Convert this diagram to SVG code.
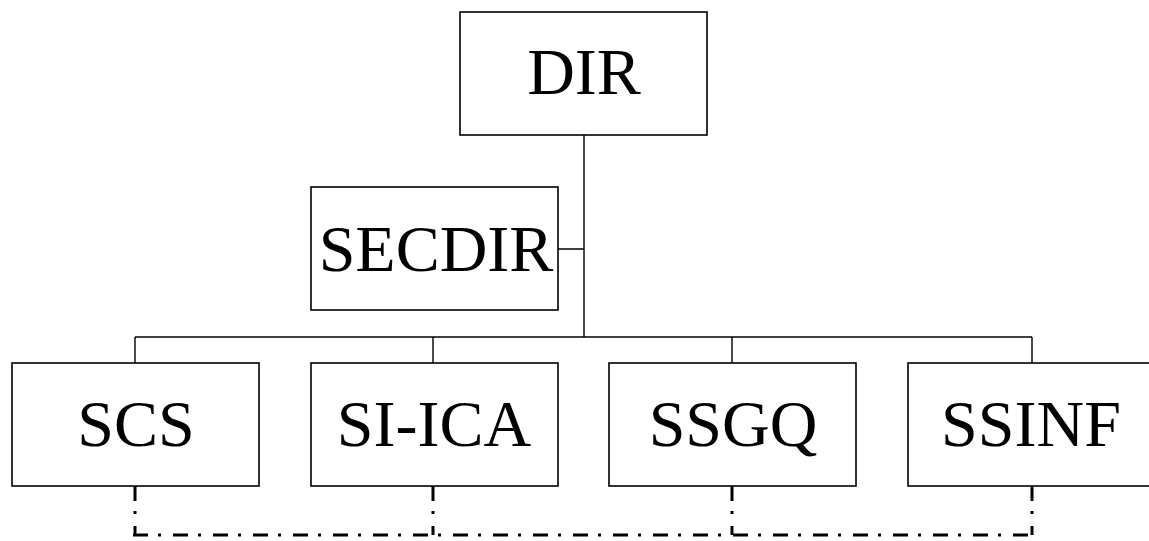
<svg xmlns="http://www.w3.org/2000/svg" width="1149" height="541" viewBox="0 0 1149 541">
<style>
.box{fill:#fff;stroke:#000;stroke-width:1.6}
.lbl{font-family:"Liberation Serif","Times New Roman",serif;font-size:66px;fill:#000;text-anchor:middle}
.ln{fill:none;stroke:#000;stroke-width:1.4}
.dd{fill:none;stroke:#000;stroke-width:3;stroke-dasharray:15 10 3 12}
</style>
<rect width="1149" height="541" fill="#fff"/>
<g id="connectors">
<path class="ln" d="M584,135V337M558,249H584M135,337H1032M135,337V363M433,337V363M732,337V363M1032,337V363"/>
<path class="dd" d="M135,486V535"/>
<path class="dd" d="M433,486V535"/>
<path class="dd" d="M732,486V535"/>
<path class="dd" d="M1032,486V535"/>
<path class="dd" d="M133,535H1034"/>
</g>
<g id="DIR"><rect class="box" x="460" y="12" width="247" height="123"/><text class="lbl" x="584" y="94">DIR</text></g>
<g id="SECDIR"><rect class="box" x="311" y="187" width="247" height="123"/><text class="lbl" x="436" y="271">SECDIR</text></g>
<g id="SCS"><rect class="box" x="12" y="363" width="247" height="123"/><text class="lbl" x="136" y="446">SCS</text></g>
<g id="SI-ICA"><rect class="box" x="311" y="363" width="247" height="123"/><text class="lbl" x="434" y="446">SI-ICA</text></g>
<g id="SSGQ"><rect class="box" x="609" y="363" width="247" height="123"/><text class="lbl" x="733" y="446">SSGQ</text></g>
<g id="SSINF"><rect class="box" x="908" y="363" width="247" height="123"/><text class="lbl" x="1031" y="446">SSINF</text></g>
</svg>
